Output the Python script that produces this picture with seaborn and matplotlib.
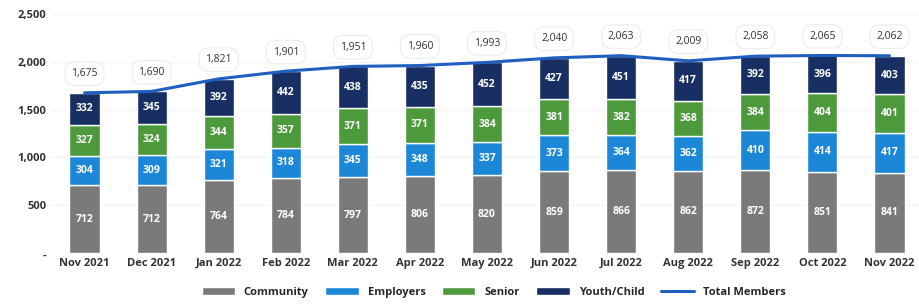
import numpy as np
import pandas as pd
import matplotlib
matplotlib.use("Agg")
import matplotlib.pyplot as plt
import seaborn as sns

months = ["Nov 2021", "Dec 2021", "Jan 2022", "Feb 2022", "Mar 2022", "Apr 2022", "May 2022",
          "Jun 2022", "Jul 2022", "Aug 2022", "Sep 2022", "Oct 2022", "Nov 2022"]
community = [712, 712, 764, 784, 797, 806, 820, 859, 866, 862, 872, 851, 841]
employers = [304, 309, 321, 318, 345, 348, 337, 373, 364, 362, 410, 414, 417]
senior = [327, 324, 344, 357, 371, 371, 384, 381, 382, 368, 384, 404, 401]
youth = [332, 345, 392, 442, 438, 435, 452, 427, 451, 417, 392, 396, 403]
total = [1675, 1690, 1821, 1901, 1951, 1960, 1993, 2040, 2063, 2009, 2058, 2065, 2062]

sns.set_style("white")
plt.rcParams["font.family"] = ["Open Sans", "DejaVu Sans"]

colors = {"Community": "#7a7a7a", "Employers": "#1c87d6", "Senior": "#4c9a3c", "Youth/Child": "#172f63"}
layers = [("Community", community), ("Employers", employers), ("Senior", senior), ("Youth/Child", youth)]

fig, ax = plt.subplots(figsize=(9.19, 3.07), dpi=100)
fig.subplots_adjust(left=0.0555, right=1.0, top=0.955, bottom=0.175)

x = np.arange(len(months))
bottom = np.zeros(len(months))
for name, vals in layers:
    vals = np.array(vals)
    sns.barplot(x=months, y=vals, bottom=bottom, color=colors[name], width=0.45,
                ax=ax, label=name, saturation=1)
    for i, v in enumerate(vals):
        yc = bottom[i] + v / 2
        if name == "Senior":
            ax.text(i, yc, f"{v}", ha="center", va="center", color="white", fontsize=7.5,
                    fontweight="bold",
                    bbox=dict(boxstyle="circle,pad=0.35", fc=colors[name], ec="none"))
        else:
            ax.text(i, yc, f"{v}", ha="center", va="center", color="white", fontsize=7.5,
                    fontweight="bold")
    bottom = bottom + vals

sns.lineplot(x=x, y=total, color="#1f5fbf", linewidth=2.2, ax=ax, label="Total Members")
for i, t in enumerate(total):
    ax.text(i, t + 200, f"{t:,}", ha="center", va="center", fontsize=7.5, color="#333333",
            bbox=dict(boxstyle="round,pad=0.6,rounding_size=0.9", fc="white", ec="#ececec", lw=0.8))

ax.set_ylim(0, 2500)
ax.set_xlim(-0.5, 12.44)
ax.set_yticks([0, 500, 1000, 1500, 2000, 2500])
ax.set_yticklabels(["-", "500", "1,000", "1,500", "2,000", "2,500"])
ax.tick_params(axis="both", length=0, labelsize=8, colors="#333333")
for lbl in ax.get_xticklabels() + ax.get_yticklabels():
    lbl.set_fontweight("bold")
ax.grid(axis="y", color="#f3f3f3", lw=0.8)
ax.set_axisbelow(True)
sns.despine(ax=ax, left=True, bottom=True)

handles, labels = ax.get_legend_handles_labels()
order = [labels.index(n) for n in ["Community", "Employers", "Senior", "Youth/Child", "Total Members"]]
ax.legend([handles[k] for k in order], [labels[k] for k in order],
          loc="upper center", bbox_to_anchor=(0.51, -0.1), ncol=5, frameon=False,
          handlelength=3, columnspacing=1.5, prop={"weight": "bold", "size": 8})

fig.savefig("out.png", dpi=100)
